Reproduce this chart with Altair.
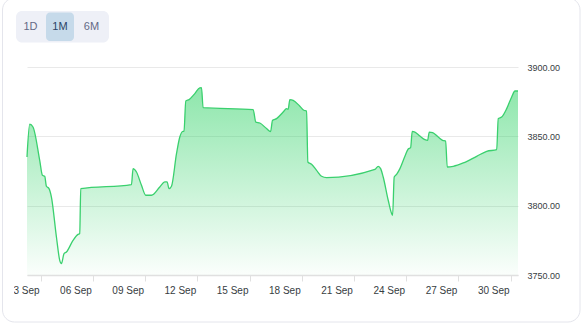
import datetime as dt
import altair as alt
import pandas as pd

# ---- data ----
TIMES = [
    "2024-09-03 05:14", "2024-09-03 09:00", "2024-09-03 13:30", "2024-09-03 22:45",
    "2024-09-04 02:29", "2024-09-04 05:40", "2024-09-04 08:00", "2024-09-04 11:35",
    "2024-09-04 14:54", "2024-09-04 21:48", "2024-09-05 02:21", "2024-09-05 04:41",
    "2024-09-05 08:17", "2024-09-05 11:35", "2024-09-05 20:41", "2024-09-06 03:34",
    "2024-09-06 05:56", "2024-09-06 07:19", "2024-09-09 05:14", "2024-09-09 07:26",
    "2024-09-09 12:08", "2024-09-09 19:02", "2024-09-10 00:58", "2024-09-10 08:50",
    "2024-09-10 20:17", "2024-09-11 03:10", "2024-09-11 06:20", "2024-09-11 09:06",
    "2024-09-11 12:25", "2024-09-11 19:19", "2024-09-11 23:52", "2024-09-12 03:35",
    "2024-09-12 05:40", "2024-09-12 08:08", "2024-09-12 12:41", "2024-09-12 20:33",
    "2024-09-13 03:27", "2024-09-13 05:47", "2024-09-13 07:59", "2024-09-16 04:58",
    "2024-09-16 08:41", "2024-09-16 14:12", "2024-09-16 23:27", "2024-09-17 04:58",
    "2024-09-17 07:44", "2024-09-17 13:15", "2024-09-17 22:21", "2024-09-18 03:02",
    "2024-09-18 05:14", "2024-09-18 07:35", "2024-09-18 12:09", "2024-09-18 21:23",
    "2024-09-19 02:54", "2024-09-19 06:37", "2024-09-19 08:25", "2024-09-19 13:31",
    "2024-09-19 20:25", "2024-09-20 03:19", "2024-09-20 10:12", "2024-09-23 04:50",
    "2024-09-23 09:23", "2024-09-23 12:42", "2024-09-23 16:16", "2024-09-23 23:10",
    "2024-09-24 03:52", "2024-09-24 05:14", "2024-09-24 07:26", "2024-09-24 10:45",
    "2024-09-24 15:19", "2024-09-24 22:12", "2024-09-25 02:45", "2024-09-25 06:04",
    "2024-09-25 08:17", "2024-09-25 12:00", "2024-09-25 18:53", "2024-09-26 01:47",
    "2024-09-26 05:31", "2024-09-26 07:44", "2024-09-26 12:25", "2024-09-26 20:08",
    "2024-09-27 02:12", "2024-09-27 06:20", "2024-09-27 08:33", "2024-09-27 16:50",
    "2024-09-28 06:37", "2024-09-29 01:06", "2024-09-29 14:54", "2024-09-30 04:41",
    "2024-09-30 06:53", "2024-09-30 11:35", "2024-09-30 18:29", "2024-10-01 01:22",
    "2024-10-01 05:55", "2024-10-01 10:05",
]
PRICES = [
    3835.1, 3858.7, 3856.7, 3832.7,
    3821.9, 3821.2, 3814.0, 3812.3,
    3806.2, 3777.4, 3760.6, 3758.2,
    3765.4, 3766.6, 3775.0, 3779.3,
    3779.9, 3812.3, 3815.2, 3826.7,
    3824.3, 3814.7, 3807.5, 3807.5,
    3813.5, 3817.1, 3817.1, 3812.3,
    3814.0, 3837.5, 3849.5, 3853.5,
    3853.8, 3875.5, 3876.5, 3880.8,
    3885.0, 3885.1, 3870.7, 3869.3,
    3860.3, 3859.6, 3855.6, 3853.4,
    3861.6, 3862.8, 3867.5, 3870.0,
    3869.5, 3876.5, 3876.0, 3871.7,
    3868.8, 3868.3, 3831.5, 3829.8,
    3825.5, 3821.2, 3820.2, 3826.2,
    3828.4, 3826.7, 3820.7, 3803.9,
    3794.3, 3793.1, 3820.7, 3822.6,
    3826.7, 3835.6, 3840.9, 3841.9,
    3853.6, 3853.1, 3850.2, 3847.6,
    3847.1, 3853.1, 3852.7, 3849.5,
    3847.1, 3846.6, 3827.9, 3828.4,
    3830.8, 3835.6, 3839.2, 3840.4,
    3862.8, 3863.9, 3870.0, 3878.4,
    3882.7, 3882.7,
]
X_TICK_DAYS = [3, 6, 9, 12, 15, 18, 21, 24, 27, 30]   # labelled days of Sep 2024
Y_TICKS = [3750, 3800, 3850, 3900]
Y_DOMAIN = [3750, 3900]
BUTTONS = ["1D", "1M", "6M"]
SELECTED = "1M"

df = pd.DataFrame({"time": TIMES, "price": PRICES})

W, H = 491, 208
FONT = "Liberation Sans"
DAY_PX = 17.41

# tick marks sit at the end of each labelled day; the label names that day
tick_dates = [dt.date(2024, 9, d) + dt.timedelta(days=1) for d in X_TICK_DAYS]
tick_values = [alt.DateTime(year=t.year, month=t.month, date=t.day) for t in tick_dates]

x_enc = alt.X(
    "time:T",
    title=None,
    axis=alt.Axis(
        values=tick_values,
        labelExpr="timeFormat(datum.value - 86400000, '%d %b')",
        labelFont=FONT,
        labelFontSize=10,
        labelColor="#373d3f",
        labelFlush=False,
        labelOverlap=False,
        labelPadding=4,
        labelOffset=-DAY_PX,
        tickSize=6,
        tickColor="#e0e0e0",
        domainColor="#e0e0e0",
        domainWidth=1.5,
        grid=False,
    ),
)
y_enc = alt.Y(
    "price:Q",
    title=None,
    scale=alt.Scale(domain=Y_DOMAIN, nice=False, zero=False),
    axis=alt.Axis(
        orient="right",
        values=Y_TICKS,
        format=".2f",
        labelFont=FONT,
        labelFontSize=9,
        labelColor="#373d3f",
        labelPadding=9,
        ticks=False,
        domain=False,
        grid=True,
        gridColor="#e9e9e9",
        gridWidth=1,
    ),
)

base = alt.Chart(df)
area = base.mark_area(
    interpolate="monotone",
    color=alt.Gradient(
        gradient="linear",
        stops=[
            alt.GradientStop(color="rgba(38,208,95,0.52)", offset=0),
            alt.GradientStop(color="rgba(38,208,95,0.02)", offset=1),
        ],
        x1=1, x2=1, y1=0, y2=1,
    ),
).encode(x=x_enc, y=y_enc, y2=alt.datum(Y_DOMAIN[0]))
line = base.mark_line(interpolate="monotone", color="#3ad06e", strokeWidth=1.3).encode(
    x="time:T", y="price:Q"
)

one = alt.Data(values=[{"k": 0}])
OX, OY = 27, 67  # plot origin inside the page

card = alt.Chart(one).mark_rect(
    fill="white", fillOpacity=0, stroke="#e4e5ec", strokeWidth=1, cornerRadius=12
).encode(
    x=alt.value(2.5 - OX), x2=alt.value(580 - OX),
    y=alt.value(-2 - OY), y2=alt.value(322 - OY),
)
btn_bg = alt.Chart(one).mark_rect(fill="#eef0f7", cornerRadius=6).encode(
    x=alt.value(16 - OX), x2=alt.value(109 - OX),
    y=alt.value(11 - OY), y2=alt.value(42.5 - OY),
)
btn_sel = alt.Chart(one).mark_rect(fill="#c6daea", cornerRadius=4).encode(
    x=alt.value(46 - OX), x2=alt.value(74 - OX),
    y=alt.value(12.5 - OY), y2=alt.value(41 - OY),
)
btn_centers = [30.5, 60, 91.5]
btn_texts = [
    alt.Chart(alt.Data(values=[{"label": b}])).mark_text(
        font=FONT, fontSize=11, align="center", baseline="middle",
        color="#2b4466" if b == SELECTED else "#646a86",
    ).encode(text="label:N", x=alt.value(cx - OX), y=alt.value(26.8 - OY))
    for b, cx in zip(BUTTONS, btn_centers)
]
mask = alt.Chart(one).mark_rect(fill="white").encode(
    x=alt.value(3.5 - OX), x2=alt.value(14 - OX),
    y=alt.value(280 - OY), y2=alt.value(302 - OY),
)

chart = alt.layer(card, btn_bg, btn_sel, *btn_texts, area, line, mask).properties(
    width=W,
    height=H,
    autosize=alt.AutoSizeParams(type="none"),
    padding={"left": OX, "top": OY, "right": 588 - OX - W, "bottom": 326 - OY - H},
).configure_view(stroke=None)

chart.save("out.html", embed_options={"renderer": "svg", "actions": False})
